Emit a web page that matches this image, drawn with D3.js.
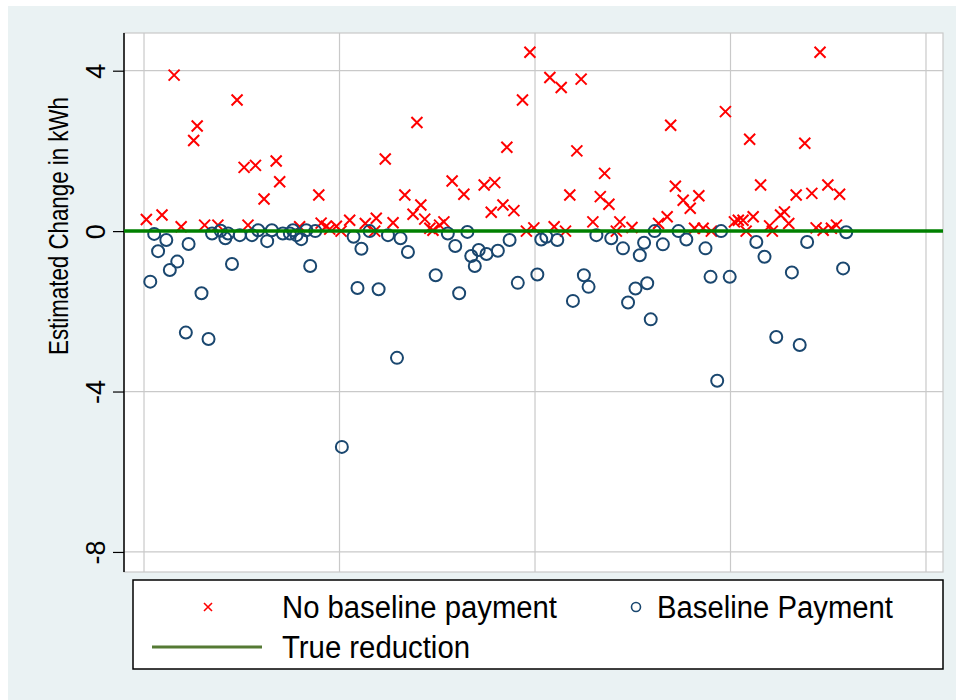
<!DOCTYPE html>
<html>
<head>
<meta charset="utf-8">
<script src="https://cdn.jsdelivr.net/npm/d3@7"></script>
<style>
    body { margin: 0; background: #ffffff; }
    text { font-family: "Liberation Sans", Arial, sans-serif; }
</style>
</head>
<body>
<div class="chart"></div>
<script>
// DATA ------------------------------------

// x = observation index, y = estimated change in kWh
const noBaseX = [0.6, 4.6, 7.7, 9.5, 12.7, 13.6, 15.5, 18.9, 23.8, 25.6, 26.6, 28.5, 30.7, 33.8, 34.7, 39.8,
    44.7, 45.3, 46.6, 47.5, 49.2, 50.4, 52.6, 56.6, 59.0, 59.4, 61.7, 63.7, 66.7, 68.8, 69.8, 70.8,
    71.8, 73.1, 73.9, 75.6, 76.7, 78.8, 81.8, 87.0, 88.8, 89.7, 91.8, 92.8, 94.6, 96.8, 97.8, 98.7,
    99.7, 103.8, 104.9, 106.7, 107.8, 108.9, 110.7, 111.8, 114.8, 116.7, 117.8, 118.9, 120.8, 121.7,
    124.8, 131.6, 133.8, 134.7, 135.9, 137.9, 139.7, 140.8, 141.9, 143.0, 145.1, 148.7, 151.0, 152.0,
    153.2, 154.0, 154.9, 155.8, 157.7, 160.0, 160.7, 162.8, 163.8, 164.9, 166.8, 169.0, 170.8, 171.9,
    172.9, 173.7, 174.9, 175.8, 177.1, 177.9];
const noBaseY = [0.29, 0.40, 3.89, 0.11, 2.26, 2.62, 0.15, 0.15, 3.27, 1.59, 0.15, 1.64, 0.80, 1.75, 1.23, 0.11,
    0.90, 0.20, 0.12, 0.05, 0.12, 0.00, 0.27, 0.19, 0.00, 0.32, 1.80, 0.21, 0.90, 0.42, 2.71, 0.65,
    0.30, 0.07, 0.02, 0.15, 0.23, 1.25, 0.92, 1.15, 0.47, 1.21, 0.65, 2.09, 0.51, 3.27, 0.00, 4.46,
    0.08, 3.83, 0.11, 3.58, 0.00, 0.90, 2.00, 3.79, 0.23, 0.86, 1.44, 0.67, 0.00, 0.23,
    0.09, 0.19, 0.36, 2.64, 1.12, 0.77, 0.57, 0.07, 0.88, 0.07, 0.00, 2.98, 0.23, 0.27,
    0.27, 0.00, 2.29, 0.36, 1.15, 0.13, 0.00, 0.40, 0.48, 0.19, 0.90, 2.19, 0.94, 0.08,
    4.46, 0.02, 1.15, 0.07, 0.15, 0.92];

const baseX = [1.6, 2.6, 3.6, 5.7, 6.6, 8.5, 10.7, 11.4, 14.7, 16.5, 17.4, 19.6, 20.8, 21.5, 22.5, 24.5,
    27.6, 29.2, 31.5, 32.7, 35.5, 37.3, 38.1, 39.0, 40.2, 41.5, 42.5, 43.8, 50.6, 53.6, 54.6, 55.6,
    57.7, 60.0, 62.4, 64.7, 65.6, 67.5, 74.6, 77.7, 79.6, 80.6, 82.7, 83.7, 84.6, 85.6, 87.6, 90.5,
    93.5, 95.6, 100.6, 101.6, 102.9, 105.7, 109.7, 112.5, 113.7, 115.7, 119.5, 122.5, 123.8, 125.7,
    126.8, 127.9, 128.7, 129.6, 130.6, 132.7, 136.7, 138.7, 143.6, 144.9, 146.6, 147.6, 149.8, 156.6,
    158.7, 161.7, 165.7, 167.7, 169.6, 178.8, 179.6];
const baseY = [-1.26, -0.07, -0.50, -0.22, -0.97, -0.76, -2.53, -0.32, -1.55, -2.69, -0.06, 0.01, -0.18, -0.06, -0.82, -0.10,
    -0.10, 0.02, -0.25, 0.02, -0.06, -0.06, 0.02, -0.10, -0.20, 0.02, -0.87, 0.00, -5.38, -0.14, -1.42, -0.44,
    0.00, -1.45, -0.10, -3.16, -0.18, -0.52, -1.10, -0.06, -0.37, -1.55, -0.02, -0.62, -0.87, -0.47, -0.57, -0.49,
    -0.22, -1.29, -1.08, -0.21, -0.14, -0.22, -1.74, -1.10, -1.39, -0.10, -0.18, -0.43, -1.78, -1.43,
    -0.60, -0.29, -1.30, -2.20, 0.00, -0.33, 0.00, -0.21, -0.43, -1.14, -3.73, 0.00, -1.14, -0.27,
    -0.64, -2.64, -1.03, -2.84, -0.27, -0.93, -0.03];

const trueReduction = 0;
const yTicks = [4, 0, -4, -8];
const xGrid = [0, 50, 100, 150, 200];
const yTitle = 'Estimated Change in kWh';
const legendLabels = ['No baseline payment', 'Baseline Payment', 'True reduction'];

const redColor = '#ff0000',
    navyColor = '#1a476f',
    lineColor = '#008000',
    gridColor = '#c9c9c9';

// CHART INIT ------------------------------

const margin = { top: 33, right: 13, bottom: 128, left: 124 },
    width = 956 - margin.left - margin.right,
    height = 700 - margin.top - margin.bottom;

let svg = d3
    .select('.chart')
    .append('svg')
    .attr('width', 956)
    .attr('height', 700);

// graph region background
svg.append('rect')
    .attr('x', 8)
    .attr('y', 6)
    .attr('width', 948)
    .attr('height', 694)
    .attr('fill', '#eaf2f3');

const group = svg
    .append('g')
    .attr('transform', 'translate(' + margin.left + ',' + margin.top + ')');

const xScale = d3.scaleLinear()
    .domain([-5.12, 204.35])
    .range([0, width]);

const yScale = d3.scaleLinear()
    .domain([-8.5, 4.94])
    .range([height, 0]);

// plot region
group.append('rect')
    .attr('width', width)
    .attr('height', height)
    .attr('fill', '#ffffff')
    .attr('stroke', gridColor)
    .attr('stroke-width', 1.2);

// grid lines
group.append('g')
    .selectAll('line')
    .data(yTicks)
    .enter()
    .append('line')
    .attr('x1', 0)
    .attr('x2', width)
    .attr('y1', d => yScale(d))
    .attr('y2', d => yScale(d))
    .attr('stroke', gridColor)
    .attr('stroke-width', 1.2);

group.append('g')
    .selectAll('line')
    .data(xGrid)
    .enter()
    .append('line')
    .attr('x1', d => xScale(d))
    .attr('x2', d => xScale(d))
    .attr('y1', 0)
    .attr('y2', height)
    .attr('stroke', gridColor)
    .attr('stroke-width', 1.2);

// y axis (plain hyphen for negatives, like the original)
const yAxis = d3.axisLeft()
    .scale(yScale)
    .tickValues(yTicks)
    .tickSize(11)
    .tickSizeOuter(0)
    .tickFormat(d => String(d));

let yDisplay = group
    .append('g')
    .attr('class', 'axis y-axis')
    .call(yAxis);

yDisplay.select('.domain')
    .attr('d', 'M0,0V' + height)
    .attr('stroke', '#000')
    .attr('stroke-width', 1.5);

yDisplay.selectAll('.tick line')
    .attr('stroke', '#000')
    .attr('stroke-width', 1.2);

yDisplay.selectAll('.tick text')
    .attr('x', 0)
    .attr('y', 0)
    .attr('dy', 0)
    .attr('transform', 'translate(-19,0) rotate(-90)')
    .attr('text-anchor', 'middle')
    .attr('font-size', 27)
    .attr('font-family', '"Liberation Sans", Arial, sans-serif')
    .attr('fill', '#000');

svg.append('text')
    .attr('transform', 'translate(68,226) rotate(-90)')
    .attr('text-anchor', 'middle')
    .attr('font-size', 28)
    .attr('textLength', 258)
    .attr('lengthAdjust', 'spacingAndGlyphs')
    .attr('fill', '#000')
    .text(yTitle);

// markers
const crossPath = s => 'M' + (-s) + ',' + (-s) + 'L' + s + ',' + s + 'M' + (-s) + ',' + s + 'L' + s + ',' + (-s);

group.append('g')
    .selectAll('path')
    .data(noBaseX.map((x, i) => ({ x: x, y: noBaseY[i] })))
    .enter()
    .append('path')
    .attr('d', crossPath(5.5))
    .attr('transform', d => 'translate(' + xScale(d.x) + ',' + yScale(d.y) + ')')
    .attr('stroke', redColor)
    .attr('stroke-width', 2)
    .attr('fill', 'none');

group.append('g')
    .selectAll('circle')
    .data(baseX.map((x, i) => ({ x: x, y: baseY[i] })))
    .enter()
    .append('circle')
    .attr('cx', d => xScale(d.x))
    .attr('cy', d => yScale(d.y))
    .attr('r', 6)
    .attr('stroke', navyColor)
    .attr('stroke-width', 2)
    .attr('fill', 'none');

// true reduction line
group.append('line')
    .attr('x1', 0)
    .attr('x2', width)
    .attr('y1', yScale(trueReduction))
    .attr('y2', yScale(trueReduction))
    .attr('stroke', lineColor)
    .attr('stroke-width', 3.5);

// LEGEND ----------------------------------

const legend = svg.append('g');

legend.append('rect')
    .attr('x', 133)
    .attr('y', 580)
    .attr('width', 810)
    .attr('height', 89)
    .attr('fill', '#ffffff')
    .attr('stroke', '#000')
    .attr('stroke-width', 1.5);

legend.append('path')
    .attr('d', crossPath(4))
    .attr('transform', 'translate(208,607)')
    .attr('stroke', redColor)
    .attr('stroke-width', 1.6)
    .attr('fill', 'none');

legend.append('circle')
    .attr('cx', 636)
    .attr('cy', 607)
    .attr('r', 4.5)
    .attr('stroke', navyColor)
    .attr('stroke-width', 1.6)
    .attr('fill', 'none');

legend.append('line')
    .attr('x1', 152)
    .attr('x2', 262)
    .attr('y1', 647)
    .attr('y2', 647)
    .attr('stroke', '#557a34')
    .attr('stroke-width', 3);

const legendWidths = [275, 236, 188];

legend.selectAll('text')
    .data(legendLabels)
    .enter()
    .append('text')
    .attr('x', (d, i) => i == 1 ? 657 : 282)
    .attr('y', (d, i) => i == 2 ? 647 : 607)
    .attr('dy', '0.36em')
    .attr('font-size', 31)
    .attr('textLength', (d, i) => legendWidths[i])
    .attr('lengthAdjust', 'spacingAndGlyphs')
    .attr('fill', '#000')
    .text(d => d);
</script>
</body>
</html>
